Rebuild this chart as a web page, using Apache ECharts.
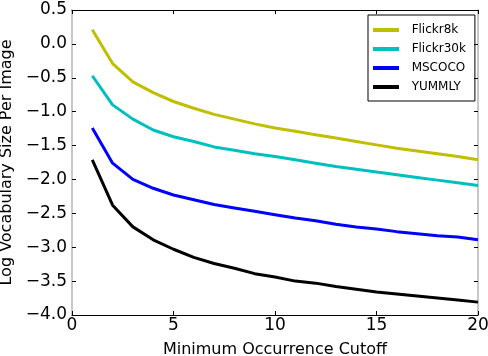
<!DOCTYPE html>
<html>
<head>
<meta charset="utf-8">
<script src="https://cdn.jsdelivr.net/npm/echarts@6/dist/echarts.min.js"></script>
<style>
  html, body { margin: 0; padding: 0; background: #fff; }
  #main { width: 488px; height: 356px; }
</style>
</head>
<body>
<div id="main"></div>
<script>
// minimum occurrence cutoff
var cutoffs = [1, 2, 3, 4, 5, 6, 7, 8, 9, 10, 11, 12, 13, 14, 15, 16, 17, 18, 19, 20];
var flickr8k = [0.21, -0.29, -0.56, -0.72, -0.85, -0.95, -1.04, -1.11, -1.18, -1.24, -1.29, -1.34, -1.39, -1.44, -1.49, -1.54, -1.58, -1.62, -1.66, -1.71];
var flickr30k = [-0.47, -0.90, -1.11, -1.27, -1.37, -1.44, -1.52, -1.57, -1.62, -1.66, -1.71, -1.76, -1.81, -1.85, -1.89, -1.93, -1.97, -2.01, -2.05, -2.09];
var mscoco = [-1.24, -1.76, -2.00, -2.13, -2.23, -2.30, -2.37, -2.42, -2.47, -2.52, -2.57, -2.61, -2.66, -2.70, -2.73, -2.77, -2.80, -2.83, -2.85, -2.89];
var yummly = [-1.71, -2.38, -2.70, -2.89, -3.03, -3.15, -3.24, -3.31, -3.39, -3.44, -3.50, -3.53, -3.58, -3.62, -3.66, -3.69, -3.72, -3.75, -3.78, -3.81];
var seriesNames = ['Flickr8k', 'Flickr30k', 'MSCOCO', 'YUMMLY'];
var seriesColors = ['#bfbf00', '#00bfbf', '#0000ff', '#000000'];

function pairs(ys) {
  return cutoffs.map(function (x, i) { return [x, ys[i]]; });
}

var chart = echarts.init(document.getElementById('main'));
var font = 'DejaVu Sans';
var allData = [flickr8k, flickr30k, mscoco, yummly];

chart.setOption({
  animation: false,
  textStyle: { fontFamily: font },
  grid: { left: 72, right: 10, top: 10, bottom: 41, outerBoundsMode: 'none', containLabel: false },
  legend: {
    orient: 'vertical',
    left: 368, top: 15,
    padding: [8, 9, 7, 5],
    itemGap: 5,
    itemWidth: 26, itemHeight: 4,
    icon: 'rect',
    borderColor: '#000', borderWidth: 1,
    textStyle: { fontFamily: font, fontSize: 12, color: '#000', lineHeight: 14 },
    formatter: function (name) { return '  ' + name; },
    data: seriesNames
  },
  xAxis: [{
    type: 'value', min: 0, max: 20, interval: 5,
    name: 'Minimum Occurrence Cutoff', nameLocation: 'middle', nameGap: 27,
    nameTextStyle: { fontFamily: font, fontSize: 16, color: '#000' },
    axisLine: { onZero: false, lineStyle: { color: '#000', width: 1 } },
    axisTick: { inside: true, length: 4, lineStyle: { color: '#000' } },
    axisLabel: { fontFamily: font, fontSize: 17, color: '#000', margin: 2 },
    splitLine: { show: false }
  }, {
    type: 'value', min: 0, max: 20, interval: 5, position: 'top',
    axisLine: { onZero: false, lineStyle: { color: '#000', width: 1 } },
    axisTick: { inside: true, length: 4, lineStyle: { color: '#000' } },
    axisLabel: { show: false },
    splitLine: { show: false }
  }],
  yAxis: [{
    type: 'value', min: -4, max: 0.5, interval: 0.5,
    name: 'Log Vocabulary Size Per Image', nameLocation: 'middle', nameGap: 54,
    nameTextStyle: { fontFamily: font, fontSize: 16, color: '#000' },
    axisLine: { show: true, onZero: false, lineStyle: { color: '#c8c8c8', width: 2 } },
    axisTick: { show: true, inside: true, length: 4, lineStyle: { color: '#000' } },
    axisLabel: {
      fontFamily: font, fontSize: 17, color: '#000', margin: 5,
      formatter: function (v) { return v.toFixed(1).replace('-', '\u2212'); }
    },
    splitLine: { show: false }
  }, {
    type: 'value', min: -4, max: 0.5, interval: 0.5, position: 'right',
    axisLine: { show: true, onZero: false, lineStyle: { color: '#c8c8c8', width: 2 } },
    axisTick: { show: true, inside: true, length: 4, lineStyle: { color: '#000' } },
    axisLabel: { show: false },
    splitLine: { show: false }
  }],
  series: seriesNames.map(function (name, i) {
    return {
      name: name, type: 'line',
      data: pairs(allData[i]),
      showSymbol: false, symbol: 'none',
      color: seriesColors[i],
      lineStyle: { width: 3, color: seriesColors[i] }
    };
  })
});
</script>
</body>
</html>
